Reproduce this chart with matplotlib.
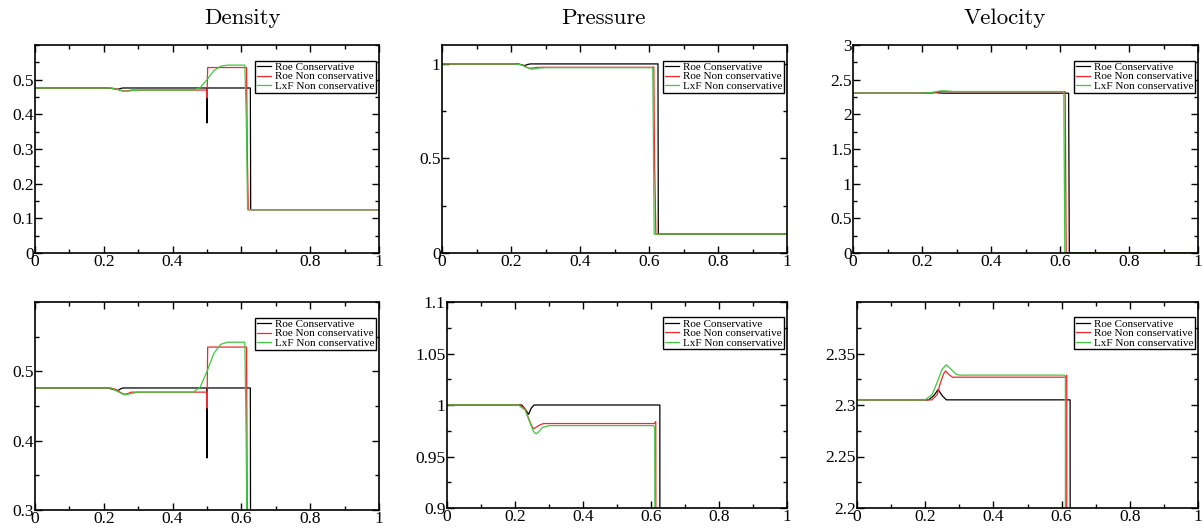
import matplotlib
matplotlib.use("Agg")
import matplotlib.pyplot as plt
from matplotlib.ticker import MultipleLocator, FormatStrFormatter, FixedLocator, FixedFormatter

plt.rcParams['font.family'] = ['Liberation Serif', 'DejaVu Serif']

# ---- data (x in [0, 1]) ----
series_labels = ['Roe Conservative', 'Roe Non conservative', 'LxF Non conservative']
series_colors = ['black', '#ee2a2a', '#3ec83e']

# Density
rho_roe_x = [0, 0.21, 0.228, 0.24, 0.25, 0.256, 0.499, 0.5, 0.501, 0.626, 0.627, 1]
rho_roe_y = [0.476, 0.476, 0.474, 0.472, 0.475, 0.476, 0.476, 0.375, 0.476, 0.476, 0.125, 0.125]
rho_nc_x = [0, 0.22, 0.235, 0.25, 0.26, 0.27, 0.28, 0.499, 0.5, 0.502, 0.615, 0.617, 0.62, 1]
rho_nc_y = [0.476, 0.476, 0.474, 0.469, 0.467, 0.468, 0.47, 0.47, 0.447, 0.535, 0.535, 0.3, 0.125, 0.125]
rho_lxf_x = [0, 0.22, 0.24, 0.26, 0.28, 0.30, 0.46, 0.48, 0.50, 0.52, 0.54, 0.56, 0.61, 0.614, 0.618, 1]
rho_lxf_y = [0.476, 0.476, 0.471, 0.466, 0.468, 0.47, 0.47, 0.477, 0.5, 0.526, 0.539, 0.542, 0.542, 0.4, 0.125, 0.125]

# Pressure
p_roe_x = [0, 0.22, 0.232, 0.24, 0.248, 0.256, 0.626, 0.627, 1]
p_roe_y = [1.0, 1.0, 0.995, 0.991, 0.997, 1.0, 1.0, 0.1, 0.1]
p_nc_x = [0, 0.215, 0.23, 0.24, 0.25, 0.255, 0.265, 0.275, 0.285, 0.61, 0.614, 0.616, 0.62, 1]
p_nc_y = [1.0, 1.0, 0.996, 0.987, 0.979, 0.977, 0.979, 0.981, 0.982, 0.982, 0.984, 0.5, 0.1, 0.1]
p_lxf_x = [0, 0.21, 0.23, 0.245, 0.255, 0.262, 0.27, 0.28, 0.30, 0.608, 0.611, 0.615, 1]
p_lxf_y = [1.0, 1.0, 0.995, 0.982, 0.974, 0.972, 0.974, 0.978, 0.98, 0.98, 0.978, 0.1, 0.1]

# Velocity
u_roe_x = [0, 0.21, 0.225, 0.238, 0.25, 0.262, 0.625, 0.627, 1]
u_roe_y = [2.305, 2.305, 2.309, 2.315, 2.309, 2.305, 2.305, 0, 0]
u_nc_x = [0, 0.22, 0.235, 0.245, 0.255, 0.26, 0.268, 0.28, 0.29, 0.612, 0.615, 0.618, 1]
u_nc_y = [2.305, 2.305, 2.31, 2.322, 2.331, 2.333, 2.33, 2.327, 2.327, 2.327, 2.329, 0, 0]
u_lxf_x = [0, 0.20, 0.22, 0.235, 0.25, 0.262, 0.275, 0.29, 0.30, 0.608, 0.611, 0.614, 1]
u_lxf_y = [2.305, 2.305, 2.31, 2.322, 2.335, 2.339, 2.335, 2.33, 2.329, 2.329, 2.328, 0, 0]

titles = ['Density', 'Pressure', 'Velocity']
curves = [
    [(rho_roe_x, rho_roe_y), (rho_nc_x, rho_nc_y), (rho_lxf_x, rho_lxf_y)],
    [(p_roe_x, p_roe_y), (p_nc_x, p_nc_y), (p_lxf_x, p_lxf_y)],
    [(u_roe_x, u_roe_y), (u_nc_x, u_nc_y), (u_lxf_x, u_lxf_y)],
]

# full-range view (top row) and zoomed view (bottom row)
top_ylim = [(0, 0.6), (0, 1.1), (0, 3)]
top_yticks = [[0, 0.1, 0.2, 0.3, 0.4, 0.5], [0, 0.5, 1], [0, 0.5, 1, 1.5, 2, 2.5, 3]]
top_yminor = [0.05, 0.25, 0.25]
bot_ylim = [(0.3, 0.6), (0.9, 1.1), (2.2, 2.4)]
bot_yticks = [[0.3, 0.4, 0.5], [0.9, 0.95, 1, 1.05, 1.1], [2.2, 2.25, 2.3, 2.35]]
bot_yminor = [0.05, 0.025, 0.025]
x_ticks = [0, 0.2, 0.4, 0.6, 0.8, 1]

W, H = 1203, 528
fig = plt.figure(figsize=(W / 100, H / 100), dpi=100)

# axes boxes in pixels: (left, right, top, bottom)
top_boxes = [(35, 379, 45, 253), (442, 787, 45, 253), (853, 1198, 45, 253)]
bot_boxes = [(35, 379, 302, 510), (447, 787, 302, 508), (857, 1198, 302, 508)]
title_x = [242, 603, 1005]


def px_axes(box):
    l, r, t, b = box
    return fig.add_axes([l / W, 1 - b / H, (r - l) / W, (b - t) / H])


def style_axes(ax, ylim, yticks, yminor, xlabels):
    ax.set_xlim(0, 1)
    ax.set_ylim(*ylim)
    ax.xaxis.set_major_locator(FixedLocator(x_ticks))
    ax.xaxis.set_major_formatter(FixedFormatter(xlabels))
    ax.xaxis.set_minor_locator(MultipleLocator(0.1))
    ax.set_yticks(yticks)
    ax.yaxis.set_major_formatter(FormatStrFormatter('%g'))
    ax.yaxis.set_minor_locator(MultipleLocator(yminor))
    ax.tick_params(which='both', direction='in', top=True, right=True, labelsize=12.5, pad=1)
    ax.tick_params(which='major', length=5, width=1)
    ax.tick_params(which='minor', length=3, width=1)
    for s in ax.spines.values():
        s.set_linewidth(1.2)
    leg = ax.legend(loc='upper right', bbox_to_anchor=(0.992, 0.925), borderaxespad=0,
                    fontsize=8, labelspacing=0.0, handlelength=1.3, handletextpad=0.4,
                    borderpad=0.12, fancybox=False, framealpha=1)
    leg.get_frame().set_edgecolor('black')
    leg.get_frame().set_linewidth(1.0)


for j in range(3):
    for row, box in enumerate([top_boxes[j], bot_boxes[j]]):
        ax = px_axes(box)
        for (xs, ys), lab, col in zip(curves[j], series_labels, series_colors):
            ax.plot(xs, ys, color=col, lw=0.9, label=lab)
        if row == 0:
            xl = ['0', '0.2', '0.4', '' if j == 0 else '0.6', '0.8', '1']
            style_axes(ax, top_ylim[j], top_yticks[j], top_yminor[j], xl)
        else:
            xl = ['0', '0.2', '0.4', '0.6', '0.8', '1']
            style_axes(ax, bot_ylim[j], bot_yticks[j], bot_yminor[j], xl)
    fig.text(title_x[j] / W, 1 - 18 / H, titles[j], family='cmr10', fontsize=16.5,
             ha='center', va='center')

fig.savefig('out.png', dpi=100)
